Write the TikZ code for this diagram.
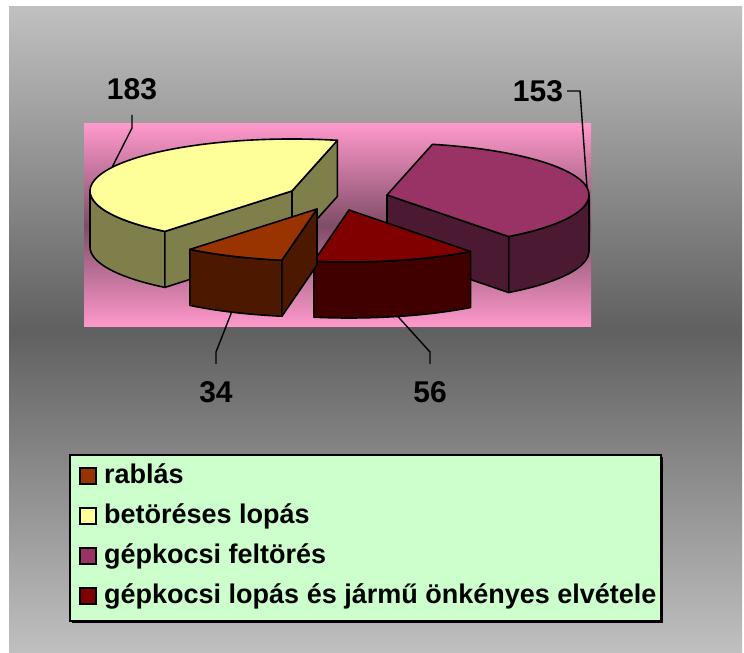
\documentclass[tikz,border=0pt]{standalone}
\usepackage{fontspec}
\setmainfont{Liberation Sans}
\usetikzlibrary{calc}

\definecolor{bggray}{HTML}{C0C0C0}
\definecolor{plotpink}{HTML}{FF99CC}
\definecolor{legendgreen}{HTML}{CCFFCC}
\definecolor{robTop}{HTML}{993300}
\definecolor{robSide}{HTML}{4C1900}
\definecolor{burgTop}{HTML}{FFFF99}
\definecolor{burgSide}{HTML}{7F7F4C}
\definecolor{carbTop}{HTML}{993366}
\definecolor{carbSide}{HTML}{4C1933}
\definecolor{cartTop}{HTML}{800000}
\definecolor{cartSide}{HTML}{400000}

\tikzset{
  pieedge/.style={draw=black, line width=1.6pt, line join=round},
  pierim/.style={x radius=202, y radius=52},
  leader/.style={draw=black, line width=1.4pt},
  numlabel/.style={font=\bfseries\fontsize{30}{30}\selectfont, inner sep=0pt, anchor=base},
  legtext/.style={font=\bfseries\fontsize{27}{27}\selectfont, inner sep=0pt, anchor=base west},
  legmark/.style={draw=black, line width=1.4pt, minimum size=16pt, inner sep=0pt},
}

\begin{document}
\begin{tikzpicture}[x=1pt,y=1pt]
	\useasboundingbox (0,0) rectangle (744,653);
	% background and plot area
	\shade[top color=bggray, bottom color=bggray, middle color=bggray!50!black] (9,0) rectangle (742,646);
	\shade[top color=plotpink, bottom color=plotpink, middle color=plotpink!50!black] (84,326) rectangle (591,529);

	% gepkocsi felteres
	\begin{scope}[shift={(387,458)}]
		\filldraw[pieedge, fill=carbSide] (307:202 and 52) arc[pierim, start angle=307, end angle=360] -- ++(0,-56) arc[pierim, start angle=360, end angle=307] -- cycle;
		\filldraw[pieedge, fill=carbSide] (0,0) -- (307:202 and 52) -- ++(0,-56) -- (0,-56) -- cycle;
		\filldraw[pieedge, fill=carbTop] (0,0) -- (307:202 and 52) arc[pierim, start angle=307, end angle=437] -- cycle;
		\coordinate (rim153) at (8:202 and 52);
	\end{scope}

	% beteres
	\begin{scope}[shift={(292,462)}]
		\filldraw[pieedge, fill=burgSide] (180:202 and 52) arc[pierim, start angle=180, end angle=231] -- ++(0,-56) arc[pierim, start angle=231, end angle=180] -- cycle;
		\filldraw[pieedge, fill=burgSide] (0,0) -- (77:202 and 52) -- ++(0,-56) -- (0,-56) -- cycle;
		\filldraw[pieedge, fill=burgSide] (0,0) -- (231:202 and 52) -- ++(0,-56) -- (0,-56) -- cycle;
		\filldraw[pieedge, fill=burgTop] (0,0) -- (77:202 and 52) arc[pierim, start angle=77, end angle=231] -- cycle;
		\coordinate (rim183) at (153:202 and 52);
	\end{scope}

	% gepkocsi lopas
	\begin{scope}[shift={(349,443)}]
		\filldraw[pieedge, fill=cartSide] (260:202 and 52) arc[pierim, start angle=260, end angle=307] -- ++(0,-56) arc[pierim, start angle=307, end angle=260] -- cycle;
		\filldraw[pieedge, fill=cartTop] (0,0) -- (260:202 and 52) arc[pierim, start angle=260, end angle=307] -- cycle;
		\coordinate (rim56) at ($(284:202 and 52)+(0,-56)$);
	\end{scope}

	% rablas
	\begin{scope}[shift={(317,444)}]
		\filldraw[pieedge, fill=robSide] (231:202 and 52) arc[pierim, start angle=231, end angle=260] -- ++(0,-56) arc[pierim, start angle=260, end angle=231] -- cycle;
		\filldraw[pieedge, fill=robSide] (0,0) -- (260:202 and 52) -- ++(0,-56) -- (0,-56) -- cycle;
		\filldraw[pieedge, fill=robTop] (0,0) -- (231:202 and 52) arc[pierim, start angle=231, end angle=260] -- cycle;
		\coordinate (rim34) at ($(245:202 and 52)+(0,-56)$);
	\end{scope}

	% value labels
	\node[numlabel] (n183) at (132,553) {183};
	\node[numlabel] (n153) at (538,551) {153};
	\node[numlabel] (n34) at (216,250) {34};
	\node[numlabel] (n56) at (430,250) {56};
	\coordinate (b183) at (132,525);
	\coordinate (e183) at (132,538);
	\coordinate (b153) at (580,562);
	\coordinate (e153) at (567,562);
	\coordinate (b34) at (216,301);
	\coordinate (e34) at (216,289);
	\coordinate (b56) at (430,301);
	\coordinate (e56) at (430,289);
	\draw[leader] (rim183) -- (b183) -- (e183);
	\draw[leader] (rim153) -- (b153) -- (e153);
	\draw[leader] (rim34) -- (b34) -- (e34);
	\draw[leader] (rim56) -- (b56) -- (e56);

	% legend
	\fill[black] (72,30) rectangle (663,196);
	\filldraw[fill=legendgreen, draw=black, line width=1.2pt] (70,32) rectangle (661,198);
	\node[legmark, fill=robTop] (m1) at (88,177) {};
	\node[legmark, fill=burgTop] (m2) at (88,137) {};
	\node[legmark, fill=carbTop] (m3) at (88,97) {};
	\node[legmark, fill=cartTop] (m4) at (88,57) {};
	\node[legtext] (t1) at (104,169) {rablás};
	\node[legtext] (t2) at (104,129) {betöréses lopás};
	\node[legtext] (t3) at (104,89) {gépkocsi feltörés};
	\node[legtext] (t4) at (104,49) {gépkocsi lopás és jármű önkényes elvétele};
\end{tikzpicture}
\end{document}
